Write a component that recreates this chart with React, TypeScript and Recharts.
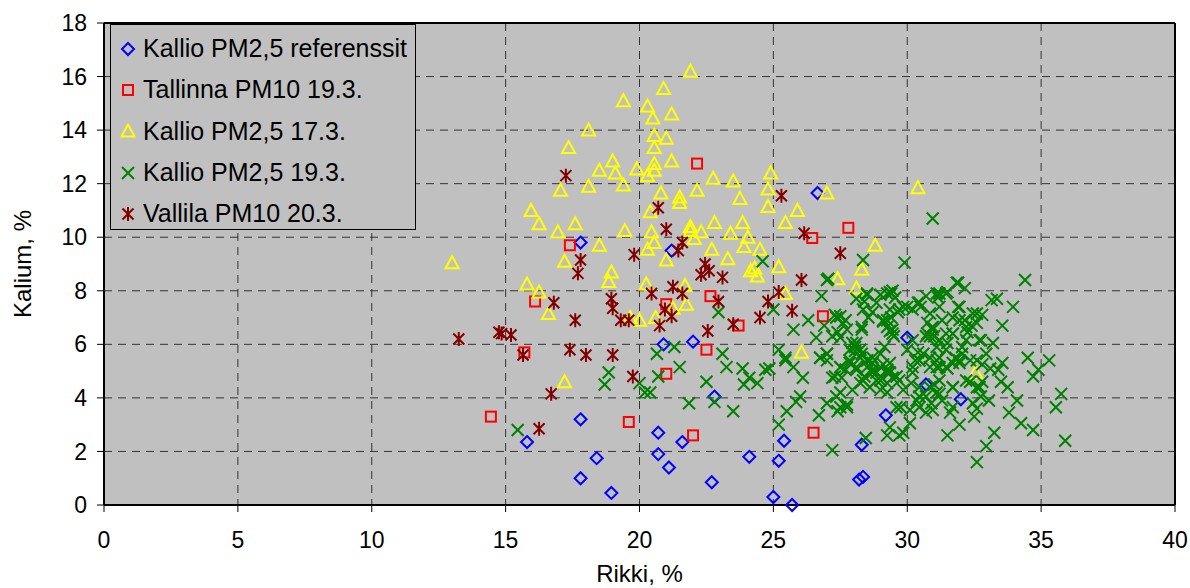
import React from 'react';
import {
  ScatterChart, Scatter, XAxis, YAxis, CartesianGrid, Legend, ReferenceLine, Label,
} from 'recharts';

document.body.style.margin = '0';

const FONT = '"Liberation Sans", Arial, sans-serif';

// [rikki %, kalium %]
const referenssit: [number, number][] = [
  [26.65, 11.65], [17.8, 9.8], [21.2, 9.5], [20.9, 6.0], [22.0, 6.1], [17.8, 3.2],
  [15.8, 2.35], [18.4, 1.75], [17.8, 1.0], [18.95, 0.45], [20.7, 2.7], [20.7, 1.9],
  [21.1, 1.4], [21.6, 2.35], [22.8, 4.05], [22.7, 0.85], [24.1, 1.8], [25.2, 1.65],
  [25.4, 2.4], [25.0, 0.3], [25.7, 0], [30.0, 6.25], [30.7, 4.5], [32.0, 3.95],
  [29.2, 3.35], [28.3, 2.25], [28.2, 0.95], [28.35, 1.05],
];

const tallinna193: [number, number][] = [
  [22.15, 12.75], [17.4, 9.7], [27.8, 10.35], [26.45, 9.97], [16.1, 7.6], [22.65, 7.8],
  [21.0, 7.5], [23.7, 6.7], [15.7, 5.7], [22.5, 5.8], [21.0, 4.9], [14.45, 3.3],
  [19.6, 3.1], [22.0, 2.6], [26.85, 7.05], [26.5, 2.7],
];

const kallio173: [number, number][] = [
  [21.9, 16.2], [20.9, 15.55], [19.4, 15.1], [20.3, 14.9], [20.5, 14.45], [21.2, 14.6],
  [18.1, 14.0], [20.55, 13.8], [21.0, 13.7], [20.55, 13.35], [17.35, 13.35], [19.0, 12.85],
  [18.5, 12.5], [19.1, 12.4], [19.9, 12.55], [20.55, 12.75], [20.3, 12.3], [20.55, 12.5],
  [21.2, 12.85], [19.4, 11.95], [18.1, 11.9], [17.05, 11.75], [20.8, 11.65], [21.5, 11.5],
  [21.5, 11.3], [22.15, 11.75], [22.75, 12.2], [23.5, 12.1], [24.9, 12.4], [24.8, 11.8],
  [23.75, 11.45], [24.8, 11.15], [25.9, 11.0], [25.45, 10.55], [20.4, 10.95], [15.95, 11.0],
  [16.25, 10.5], [16.95, 10.2], [17.6, 10.5], [19.45, 10.25], [20.45, 10.2], [20.55, 9.8],
  [20.3, 9.55], [21.0, 9.15], [21.9, 10.4], [21.9, 10.25], [22.3, 10.2], [22.05, 9.95],
  [22.8, 10.55], [23.85, 10.55], [23.4, 10.15], [24.05, 10.0], [23.9, 9.65], [22.7, 9.55],
  [23.3, 9.2], [24.5, 9.55], [25.2, 8.9], [24.15, 8.75], [24.4, 8.55], [24.3, 8.85],
  [18.5, 9.7], [17.2, 9.1], [13.0, 9.05], [18.95, 8.7], [27.0, 11.65], [30.4, 11.85],
  [28.8, 9.7], [28.3, 8.8], [27.4, 8.45], [28.1, 8.1], [25.45, 7.9], [26.05, 5.7],
  [32.55, 4.95], [18.85, 8.35], [15.8, 8.25], [16.25, 7.95], [16.6, 7.15], [17.2, 4.6],
  [20.25, 8.25], [21.7, 8.2], [21.75, 7.5], [21.25, 7.35], [20.6, 7.0], [20.0, 6.9],
  [19.65, 7.0],
];

const kallio193: [number, number][] = [
  [24.6, 9.1], [22.95, 7.2], [25.0, 7.3], [21.3, 5.9], [20.65, 5.65], [21.5, 5.15],
  [20.7, 4.8], [18.85, 4.95], [18.7, 4.5], [20.0, 4.55], [20.2, 4.2], [20.4, 4.2],
  [21.85, 3.8], [22.5, 4.6], [22.8, 3.85], [23.5, 3.5], [23.1, 5.65], [23.25, 5.15],
  [23.85, 5.1], [24.1, 4.75], [23.9, 4.5], [24.4, 4.55], [24.7, 5.05], [24.85, 5.1],
  [25.2, 5.8], [25.45, 5.4], [25.2, 3.0], [25.5, 3.5], [15.45, 2.8], [28.35, 9.15],
  [27.05, 8.45], [26.8, 7.8], [25.75, 6.55], [26.6, 6.25], [25.45, 5.5], [25.75, 5.15],
  [26.1, 4.75], [26.0, 4.05], [25.85, 3.85], [26.7, 3.35], [27.2, 2.05], [28.45, 2.5],
  [27.3, 7.1], [27.5, 7.05], [27.7, 6.9], [27.4, 6.45], [27.5, 6.25], [28.4, 7.6],
  [28.7, 7.2], [29.35, 7.95], [29.55, 7.75], [29.25, 6.9], [29.45, 6.55], [29.65, 7.2],
  [28.3, 6.55], [26.75, 5.5], [27.0, 5.4], [27.3, 4.8], [27.55, 4.75], [27.85, 5.8],
  [28.05, 5.9], [28.25, 5.5], [27.85, 5.3], [28.1, 5.15], [27.7, 5.05], [28.5, 5.4],
  [28.7, 5.3], [28.85, 4.95], [29.1, 5.25], [29.0, 4.65], [29.35, 4.95], [29.6, 4.8],
  [28.4, 4.8], [28.6, 4.4], [28.25, 4.55], [27.95, 4.3], [27.35, 4.05], [27.5, 3.65],
  [27.75, 3.75], [27.4, 3.5], [29.25, 4.2], [29.0, 4.3], [29.35, 2.9], [29.7, 2.6],
  [29.25, 2.6], [29.9, 9.05], [30.95, 10.7], [34.4, 8.4], [31.9, 8.3], [32.15, 8.1],
  [31.5, 7.95], [31.15, 7.75], [33.15, 7.65], [33.35, 7.7], [33.95, 7.4], [33.55, 6.7],
  [32.6, 7.15], [32.8, 7.1], [31.9, 7.4], [30.5, 7.4], [30.0, 7.4], [30.85, 7.15],
  [32.15, 6.9], [32.4, 6.7], [32.6, 6.8], [31.3, 6.9], [30.9, 6.6], [30.75, 6.4],
  [31.0, 6.3], [31.7, 6.4], [32.25, 6.45], [32.2, 6.15], [32.75, 6.15], [33.2, 6.05],
  [31.5, 6.05], [32.05, 5.9], [30.2, 6.15], [30.0, 5.8], [30.4, 5.7], [30.3, 5.4],
  [30.85, 5.5], [31.2, 5.5], [31.8, 5.5], [31.95, 5.3], [31.1, 5.15], [31.5, 5.1],
  [32.8, 5.25], [33.1, 5.1], [33.4, 5.05], [33.55, 5.3], [34.5, 5.5], [34.7, 4.8],
  [33.5, 4.6], [33.75, 4.4], [34.1, 3.9], [33.05, 3.9], [32.75, 4.05], [32.6, 4.4],
  [32.35, 4.6], [32.8, 4.6], [29.7, 4.65], [30.15, 4.55], [30.45, 4.05], [31.0, 4.5],
  [31.1, 4.2], [30.9, 3.8], [31.3, 3.9], [31.7, 4.4], [31.6, 3.45], [31.95, 3.0],
  [31.5, 2.6], [32.5, 3.3], [32.6, 3.6], [33.8, 3.45], [34.25, 3.05], [34.7, 2.8],
  [33.25, 2.7], [32.95, 2.2], [32.6, 1.6], [30.1, 3.05], [29.85, 2.7], [29.75, 3.65],
  [35.3, 5.4], [34.9, 5.05], [35.75, 4.15], [35.55, 3.65], [35.9, 2.4],
  [29.4, 7.9], [29.0, 7.85], [29.35, 7.3], [29.85, 7.4], [29.1, 6.85], [29.35, 6.5],
  [29.5, 6.3], [29.15, 5.9], [28.7, 5.5], [28.1, 6.05], [28.05, 5.75], [28.3, 5.65],
  [28.5, 5.15], [28.7, 4.95], [29.0, 5.15], [29.25, 5.05], [29.45, 4.75], [28.85, 4.65],
  [29.25, 4.55], [28.35, 4.65], [27.5, 5.15], [27.2, 4.75], [27.0, 5.65], [27.35, 7.0],
  [27.75, 6.55], [28.3, 6.65], [28.55, 7.0], [28.5, 7.85], [28.1, 7.7], [30.4, 7.55],
  [30.75, 6.8], [30.95, 6.55], [30.85, 6.3], [31.1, 5.9], [30.6, 5.65], [31.45, 6.4],
  [31.7, 7.0], [31.95, 7.4], [31.2, 7.4], [31.45, 7.9], [31.1, 7.9], [31.85, 8.3],
  [30.45, 5.4], [30.2, 5.15], [30.85, 5.15], [31.2, 5.15], [31.7, 5.3], [32.05, 5.65],
  [32.35, 5.4], [30.45, 4.4], [30.7, 4.05], [31.2, 4.15], [30.45, 3.65], [30.7, 3.45],
  [26.3, 6.9], [26.9, 6.7],
  [27.0, 8.4], [27.6, 6.8], [27.2, 6.3], [27.95, 6.05], [28.25, 5.8], [27.85, 5.4],
  [28.5, 5.4], [28.7, 5.05], [29.0, 4.8], [29.25, 4.95], [29.35, 5.3], [29.0, 5.65],
  [29.25, 6.65], [29.45, 6.4], [29.1, 6.9], [29.4, 7.0], [28.5, 7.9], [29.25, 7.9],
  [29.45, 8.0], [28.85, 7.55], [28.35, 7.3], [29.7, 7.3], [30.2, 7.3], [30.45, 7.55],
  [30.7, 7.8], [31.2, 7.9], [30.95, 6.65], [30.7, 6.3], [31.2, 6.15], [31.45, 5.8],
  [31.7, 6.4], [31.95, 6.9], [32.2, 6.65], [32.45, 7.15], [32.7, 6.15], [32.95, 5.65],
  [32.6, 5.4], [31.95, 5.4], [31.45, 5.15], [31.1, 5.4], [30.45, 5.4], [30.2, 4.95],
  [30.85, 4.4], [31.2, 4.65], [31.7, 4.4], [32.2, 4.65], [32.7, 4.4], [32.45, 3.8],
  [31.7, 3.65], [30.95, 3.55], [30.35, 3.9], [29.85, 4.3], [29.6, 3.65], [30.1, 3.55],
  [27.5, 4.2], [27.75, 3.65], [27.0, 3.8], [26.75, 5.5], [27.5, 5.15], [28.1, 5.05],
  [27.0, 5.65],
];

const vallila203: [number, number][] = [
  [17.25, 12.3], [20.7, 11.1], [21.0, 10.3], [21.6, 9.8], [21.45, 9.5], [19.8, 9.35],
  [17.8, 9.15], [17.7, 8.65], [22.45, 9.0], [22.6, 8.75], [22.3, 8.6], [23.1, 8.5],
  [25.3, 11.55], [26.15, 10.15], [27.5, 9.4], [26.05, 8.4], [25.7, 7.25], [16.8, 7.55],
  [17.6, 6.9], [18.95, 7.7], [19.0, 7.35], [19.3, 6.9], [19.6, 6.9], [20.45, 7.9],
  [21.25, 8.15], [21.6, 7.9], [20.95, 7.3], [21.2, 7.05], [20.75, 6.7], [22.95, 7.6],
  [23.5, 6.75], [22.55, 6.5], [24.5, 7.0], [24.8, 7.6], [25.2, 7.95], [13.25, 6.2],
  [14.75, 6.45], [14.85, 6.4], [15.2, 6.35], [15.65, 5.6], [17.4, 5.8], [18.0, 5.6],
  [19.0, 5.6], [19.75, 4.8], [16.7, 4.15], [16.25, 2.85],
];

const xTicks = [0, 5, 10, 15, 20, 25, 30, 35, 40];
const yTicks = [0, 2, 4, 6, 8, 10, 12, 14, 16, 18];

const toPoints = (rows: [number, number][]) => rows.map(([x, y]) => ({ x, y }));

type MarkProps = { cx?: number; cy?: number };

const Diamond = ({ cx = 0, cy = 0 }: MarkProps) => (
  <path d={`M${cx},${cy - 6}L${cx + 6},${cy}L${cx},${cy + 6}L${cx - 6},${cy}Z`}
    fill="none" stroke="#0000ff" strokeWidth={2} />
);
const Square = ({ cx = 0, cy = 0 }: MarkProps) => (
  <rect x={cx - 5} y={cy - 5} width={10} height={10} fill="none" stroke="#ff0000" strokeWidth={2} />
);
const Triangle = ({ cx = 0, cy = 0 }: MarkProps) => (
  <path d={`M${cx},${cy - 6.5}L${cx + 6.5},${cy + 5.5}L${cx - 6.5},${cy + 5.5}Z`}
    fill="none" stroke="#ffff00" strokeWidth={2} />
);
const Cross = ({ cx = 0, cy = 0 }: MarkProps) => (
  <path d={`M${cx - 6},${cy - 6}L${cx + 6},${cy + 6}M${cx + 6},${cy - 6}L${cx - 6},${cy + 6}`}
    stroke="#008000" strokeWidth={2} />
);
const Star = ({ cx = 0, cy = 0 }: MarkProps) => (
  <path d={`M${cx - 5.5},${cy - 5.5}L${cx + 5.5},${cy + 5.5}M${cx + 5.5},${cy - 5.5}L${cx - 5.5},${cy + 5.5}M${cx},${cy - 7}L${cx},${cy + 7}`}
    stroke="#800000" strokeWidth={2} />
);

const series = [
  { name: 'Kallio PM2,5 referenssit', rows: referenssit, Mark: Diamond },
  { name: 'Tallinna PM10 19.3.', rows: tallinna193, Mark: Square },
  { name: 'Kallio PM2,5 17.3.', rows: kallio173, Mark: Triangle },
  { name: 'Kallio PM2,5 19.3.', rows: kallio193, Mark: Cross },
  { name: 'Vallila PM10 20.3.', rows: vallila203, Mark: Star },
];

const LegendBox = () => (
  <div style={{
    width: 306, height: 206, boxSizing: 'border-box', border: '1px solid #000',
    background: '#c0c0c0', paddingTop: 3, fontFamily: FONT,
  }}>
    {series.map(({ name, Mark }) => (
      <div key={name} style={{ display: 'flex', alignItems: 'center', height: 41.3 }}>
        <svg width={32} height={20} style={{ flex: 'none' }}>
          <Mark cx={17} cy={10} />
        </svg>
        <span style={{ fontSize: 25, color: '#000', whiteSpace: 'nowrap' }}>{name}</span>
      </div>
    ))}
  </div>
);

export default function App() {
  const tick = { fill: '#000', fontSize: 23, fontFamily: FONT };
  return (
    <div style={{ width: 1190, height: 588, background: '#fff', fontFamily: FONT }}>
      <ScatterChart width={1190} height={588} margin={{ top: 23, right: 15, bottom: 0, left: 0 }}>
        <CartesianGrid stroke="#333" strokeDasharray="8 6" fill="#c0c0c0" fillOpacity={1} />
        <XAxis
          type="number" dataKey="x" domain={[0, 40]} ticks={xTicks} height={83}
          tick={tick} tickSize={7} tickMargin={20}
          axisLine={{ stroke: '#000', strokeWidth: 2 }} tickLine={{ stroke: '#000' }}
        >
          <Label value="Rikki, %" position="insideBottom" offset={6}
            style={{ fontSize: 24, fill: '#000', fontFamily: FONT }} />
        </XAxis>
        <YAxis
          type="number" dataKey="y" domain={[0, 18]} ticks={yTicks} width={104}
          tick={tick} tickSize={7} tickMargin={10}
          axisLine={{ stroke: '#000', strokeWidth: 2 }} tickLine={{ stroke: '#000' }}
        >
          <Label value="Kalium, %" angle={-90} position="insideLeft" offset={22}
            style={{ fontSize: 24, fill: '#000', fontFamily: FONT, textAnchor: 'middle' }} />
        </YAxis>
        <ReferenceLine y={18} stroke="#000" strokeWidth={2} />
        <ReferenceLine x={40} stroke="#000" strokeWidth={2} />
        {series.map(({ name, rows, Mark }) => (
          <Scatter key={name} name={name} data={toPoints(rows)} isAnimationActive={false}
            shape={(p: MarkProps) => <Mark cx={p.cx} cy={p.cy} />} />
        ))}
        <Legend layout="vertical" align="center" verticalAlign="middle"
          wrapperStyle={{ left: 110, top: 24, width: 306, height: 206 }}
          content={() => <LegendBox />} />
      </ScatterChart>
    </div>
  );
}
